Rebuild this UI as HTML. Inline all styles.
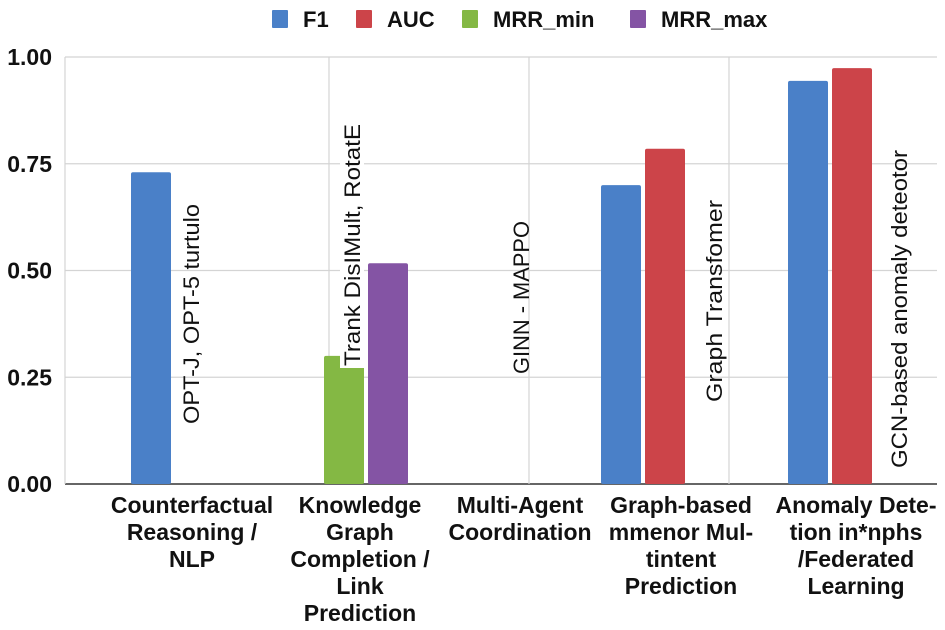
<!DOCTYPE html>
<html><head><meta charset="utf-8"><style>
html,body{margin:0;padding:0;background:#fff;}
svg{display:block;font-family:"Liberation Sans",Arial,sans-serif;}
</style></head><body>
<svg id="chart" width="945" height="630" viewBox="0 0 945 630"></svg>
<script>
const categories=[["Counterfactual","Reasoning /","NLP"],["Knowledge","Graph","Completion /","Link","Prediction"],["Multi-Agent","Coordination"],["Graph-based","mmenor Mul-","tintent","Prediction"],["Anomaly Dete-","tion in*nphs","/Federated","Learning"]];
const seriesNames=["F1","AUC","MRR_min","MRR_max"];
const seriesColors=["#4a80c8","#cc4449","#84b844","#8454a4"];
const f1Values=[0.73,null,null,0.70,0.944];
const aucValues=[null,null,null,0.785,0.974];
const mrrMinValues=[null,0.30,null,null,null];
const mrrMaxValues=[null,0.517,null,null,null];
const methodLabels=["OPT-J, OPT-5 turtulo","Trank DisIMult, RotatE","GINN - MAPPO","Graph Transfomer","GCN-based anomaly deteotor"];
const yTicks=[0,0.25,0.5,0.75,1.0];
const yTickLabels=["0.00","0.25","0.50","0.75","1.00"];

const svg=document.getElementById('chart');
const NS='http://www.w3.org/2000/svg';
function mk(tag,attrs,parent){const e=document.createElementNS(NS,tag);for(const k in attrs)e.setAttribute(k,attrs[k]);(parent||svg).appendChild(e);return e;}
const plotL=65,plotR=937,y0=484,y1=57;
function y(v){return y0-(y0-y1)*v;}
// layout (not data)
const groupStart=[131,324,500,601,788];
const labelCenter=[192,360,520,681,856];
const methodX=[191,352,521,714,899];
const methodBottom=[424,366,374,402,468];
const methodLen=[220,242,153,202,318];
const barW=40,step=44;

for(let i=0;i<yTicks.length;i++){
  const g=mk('line',{x1:plotL,x2:plotR,y1:y(yTicks[i]),y2:y(yTicks[i]),stroke:i===0?'#666':'#d4d4d4','stroke-width':i===0?2:1.2});
  
  
  const t=mk('text',{x:52,y:y(yTicks[i])+8,'text-anchor':'end','font-size':23,'font-weight':'bold',fill:'#111'});
  t.textContent=yTickLabels[i];
  
  
}
[plotL,329,529,729].forEach(x=>{
  const l=mk('line',{x1:x,x2:x,y1:y1,y2:y0,stroke:'#d4d4d4','stroke-width':1.2});
  
  
});
const all=[f1Values,aucValues,mrrMinValues,mrrMaxValues];
for(let c=0;c<categories.length;c++){
  let k=0;
  for(let s=0;s<all.length;s++){
    const v=all[s][c];
    if(v==null)continue;
    const x=groupStart[c]+k*step;k++;
    const r=mk('rect',{x:x,y:y(v),width:barW,height:y0-y(v),fill:seriesColors[s],rx:2});
    
    
  }
  const lines=categories[c];
  const t=mk('text',{'text-anchor':'middle','font-size':23,'font-weight':'bold',fill:'#111'});
  
  
  lines.forEach((ln,j)=>{const ts=mk('tspan',{x:labelCenter[c],y:513+j*27},t);ts.textContent=ln;});
  const mx=methodX[c],mb=methodBottom[c],ml=methodLen[c];
  if(c===1){const bg=mk('rect',{x:mx-12,y:mb-ml-2,width:24,height:ml+4,fill:'#fff'});}
  const m=mk('text',{x:0,y:0,transform:'translate('+(mx+8)+','+mb+') rotate(-90)','font-size':22,fill:'#111',textLength:ml,lengthAdjust:'spacingAndGlyphs'});
  m.textContent=methodLabels[c];
  
  
}
const legX=[272,356,462,630];
seriesNames.forEach((n,i)=>{
  const g=mk('g',{});
  
  
  mk('rect',{x:legX[i],y:10,width:16,height:18,fill:seriesColors[i],rx:1},g);
  const t=mk('text',{x:legX[i]+31,y:27,'font-size':22,'font-weight':'bold',fill:'#111'},g);
  t.textContent=n;
});
</script>
</body></html>
